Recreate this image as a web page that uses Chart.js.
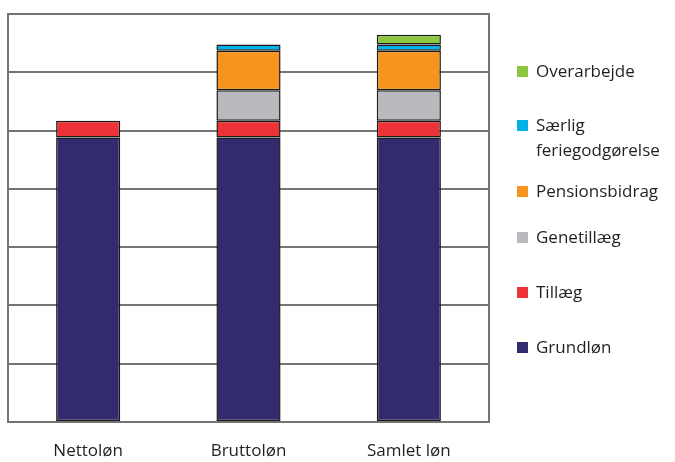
<!DOCTYPE html>
<html>
<head>
<meta charset="utf-8">
<script src="https://cdn.jsdelivr.net/npm/chart.js@4/dist/chart.umd.min.js"></script>
<style>
  html, body { margin: 0; padding: 0; background: #fff; }
  #wrap { width: 675px; height: 462px; }
</style>
</head>
<body>
<div id="wrap"><canvas id="chart"></canvas></div>
<script>
    "use strict";

    var categories = ["Nettoløn", "Bruttoløn", "Samlet løn"];

    // stacked from the bottom up
    var grundlon    = [24400, 24400, 24400];
    var tillaeg     = [1450, 1450, 1450];
    var genetillaeg = [null, 2600, 2600];
    var pension     = [null, 3400, 3400];
    var saerlig     = [null, 540, 540];
    var overarbejde = [null, null, 830];

    var yMax = 35000, yStep = 5000;

    var font = "'Open Sans', 'DejaVu Sans', sans-serif";

    function makeSet(label, data, color) {
        return {
            label: label,
            data: data,
            backgroundColor: color,
            borderColor: "#1a1a1a",
            borderWidth: 1.5,
            borderSkipped: false,
            categoryPercentage: 0.8,
            barPercentage: 0.5
        };
    }

    var datasets = [
        makeSet("Grundløn", grundlon, "#322c6f"),
        makeSet("Tillæg", tillaeg, "#ee3338"),
        makeSet("Genetillæg", genetillaeg, "#b9babd"),
        makeSet("Pensionsbidrag", pension, "#f7941e"),
        makeSet("Særlig feriegodgørelse", saerlig, "#00b2e7"),
        makeSet("Overarbejde", overarbejde, "#8dc63f")
    ];

    // frame round the plot + legend at the right
    var framePlugin = {
        id: "frameAndLegend",
        afterDraw: function (chart) {
            var ctx = chart.ctx, a = chart.chartArea;
            ctx.save();
            ctx.strokeStyle = "#747474";
            ctx.lineWidth = 2;
            ctx.strokeRect(a.left, a.top, a.right - a.left, a.bottom - a.top);

            var ys = [72, 126, 192, 238, 293, 348];
            ctx.font = "17px " + font;
            ctx.textBaseline = "middle";
            var sets = chart.data.datasets.slice().reverse();
            for (var i = 0; i < sets.length; i++) {
                var y = ys[i];
                ctx.fillStyle = sets[i].backgroundColor;
                ctx.fillRect(517, y - 6, 11, 11);
                ctx.fillStyle = "#231f20";
                var words = sets[i].label.split(" ");
                var lines = [], line = "";
                for (var k = 0; k < words.length; k++) {
                    var test = line ? line + " " + words[k] : words[k];
                    if (line && ctx.measureText(test).width > 138) {
                        lines.push(line);
                        line = words[k];
                    } else
                        line = test;
                }
                lines.push(line);
                for (var j = 0; j < lines.length; j++)
                    ctx.fillText(lines[j], 536, y + j * 25);
            }
            ctx.restore();
        }
    };

    new Chart(document.getElementById("chart").getContext("2d"), {
        type: "bar",
        data: {labels: categories, datasets: datasets},
        plugins: [framePlugin],
        options: {
            responsive: true,
            maintainAspectRatio: false,
            animation: false,
            layout: {padding: {left: 8, top: 14, right: 186, bottom: 2}},
            plugins: {legend: {display: false}, tooltip: {enabled: false}},
            scales: {
                x: {
                    stacked: true,
                    grid: {display: false, drawTicks: false},
                    border: {color: "#747474", width: 2},
                    ticks: {color: "#231f20", font: {family: font, size: 17}, padding: 19},
                    afterFit: function (scale) { scale.height = 38; }
                },
                y: {
                    stacked: true,
                    min: 0,
                    max: yMax,
                    ticks: {display: false, stepSize: yStep},
                    grid: {color: "#747474", lineWidth: 2, drawTicks: false},
                    border: {color: "#747474", width: 2}
                }
            }
        }
    });
</script>
</body>
</html>
